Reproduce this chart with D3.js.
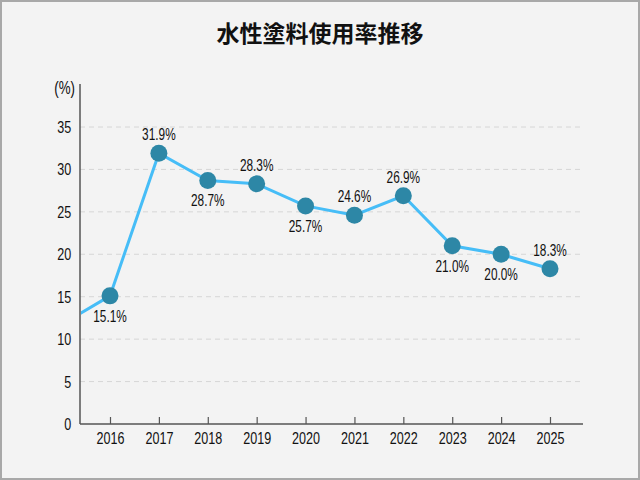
<!doctype html>
<html lang="ja">
<head>
<meta charset="utf-8">
<script src="https://d3js.org/d3.v7.min.js"></script>
<style>
  html, body { margin: 0; padding: 0; background: #f3f3f3; }
  svg { display: block; }
  .num { font-family: "Liberation Sans", Arial, sans-serif; fill: #111; }
</style>
</head>
<body>
<div id="chart"></div>
<script>
// years and usage rate (%) ; 2015 is only partly visible at the left edge
var years = [2015, 2016, 2017, 2018, 2019, 2020, 2021, 2022, 2023, 2024, 2025];
var rates = [11.7, 15.1, 31.9, 28.7, 28.3, 25.7, 24.6, 26.9, 21.0, 20.0, 18.3];
var yTicks = [0, 5, 10, 15, 20, 25, 30, 35];
var xTicks = [2016, 2017, 2018, 2019, 2020, 2021, 2022, 2023, 2024, 2025];
var title = "水性塗料使用率推移";

// which labels sit under the point
var below = {2016: true, 2018: true, 2020: true, 2023: true, 2024: true};

var width = 640, height = 480;
var padL = 80, padR = 583, padT = 84, padB = 424;
var narrow = "scale(0.74,1)"; // the numbers in the original are a condensed face

var svg = d3.select("#chart").append("svg")
    .attr("width", width)
    .attr("height", height);

svg.append("rect")
    .attr("x", 1).attr("y", 1)
    .attr("width", width - 2).attr("height", height - 2)
    .attr("fill", "#f3f3f3")
    .attr("stroke", "#a8a8a8")
    .attr("stroke-width", 2);

svg.append("text")
    .attr("x", 320).attr("y", 42)
    .attr("text-anchor", "middle")
    .style("font-family", "'Noto Sans CJK JP', sans-serif")
    .style("font-weight", "bold")
    .style("font-size", "23px")
    .attr("fill", "#111")
    .text(title);

var x = d3.scaleLinear().domain([2016, 2025]).range([110, 550]);
var y = d3.scaleLinear().domain([0, 35]).range([padB, 127]);

// grid
svg.append("g").selectAll("line")
    .data(yTicks.filter(function(d) { return d > 0; }))
  .enter().append("line")
    .attr("x1", padL).attr("x2", padR)
    .attr("y1", function(d) { return y(d); })
    .attr("y2", function(d) { return y(d); })
    .attr("stroke", "#d6d6d6")
    .attr("stroke-dasharray", "5,4");

// y axis
var yAxis = svg.append("g")
    .attr("transform", "translate(" + padL + ",0)")
    .call(d3.axisLeft(y).tickValues(yTicks).tickSize(0).tickPadding(12));
yAxis.select(".domain").remove();
yAxis.selectAll("text").attr("class", "num")
    .attr("transform", narrow)
    .style("font-size", "17px").attr("fill", "#111");

svg.append("line")
    .attr("x1", padL).attr("x2", padL)
    .attr("y1", padT).attr("y2", padB)
    .attr("stroke", "#555").attr("stroke-width", 1.5);

svg.append("text")
    .attr("class", "num")
    .attr("transform", "translate(75,94) " + narrow)
    .attr("text-anchor", "end")
    .style("font-size", "18px")
    .text("(%)");

// x axis
var xAxis = svg.append("g")
    .attr("transform", "translate(0," + padB + ")")
    .call(d3.axisBottom(x).tickValues(xTicks).tickFormat(d3.format("d"))
      .tickSizeInner(-7).tickSizeOuter(0).tickPadding(8));
xAxis.select(".domain").remove();
xAxis.selectAll(".tick line").attr("stroke", "#555").attr("stroke-width", 1.2);
xAxis.selectAll("text").attr("class", "num")
    .attr("transform", narrow)
    .style("font-size", "17px").attr("fill", "#111");

svg.append("line")
    .attr("x1", padL).attr("x2", padR)
    .attr("y1", padB).attr("y2", padB)
    .attr("stroke", "#555").attr("stroke-width", 1.5);

// line and points
svg.append("clipPath").attr("id", "plot")
  .append("rect")
    .attr("x", padL + 1).attr("y", 0)
    .attr("width", padR - padL).attr("height", padB);

var data = years.map(function(d, i) { return {year: d, val: rates[i]}; });

svg.append("path")
    .datum(data)
    .attr("clip-path", "url(#plot)")
    .attr("fill", "none")
    .attr("stroke", "#46bdf7")
    .attr("stroke-width", 3)
    .attr("d", d3.line()
      .x(function(d) { return x(d.year); })
      .y(function(d) { return y(d.val); }));

var shown = data.filter(function(d) { return d.year >= 2016; });

svg.append("g").selectAll("circle")
    .data(shown)
  .enter().append("circle")
    .attr("cx", function(d) { return x(d.year); })
    .attr("cy", function(d) { return y(d.val); })
    .attr("r", 8.5)
    .attr("fill", "#2d87a6");

svg.append("g").selectAll("text")
    .data(shown)
  .enter().append("text")
    .attr("class", "num")
    .attr("transform", function(d) {
      var ty = y(d.val) + (below[d.year] ? 26 : -13);
      return "translate(" + x(d.year) + "," + ty + ") " + narrow;
    })
    .attr("text-anchor", "middle")
    .style("font-size", "16px")
    .text(function(d) { return d.val.toFixed(1) + "%"; });
</script>
</body>
</html>
